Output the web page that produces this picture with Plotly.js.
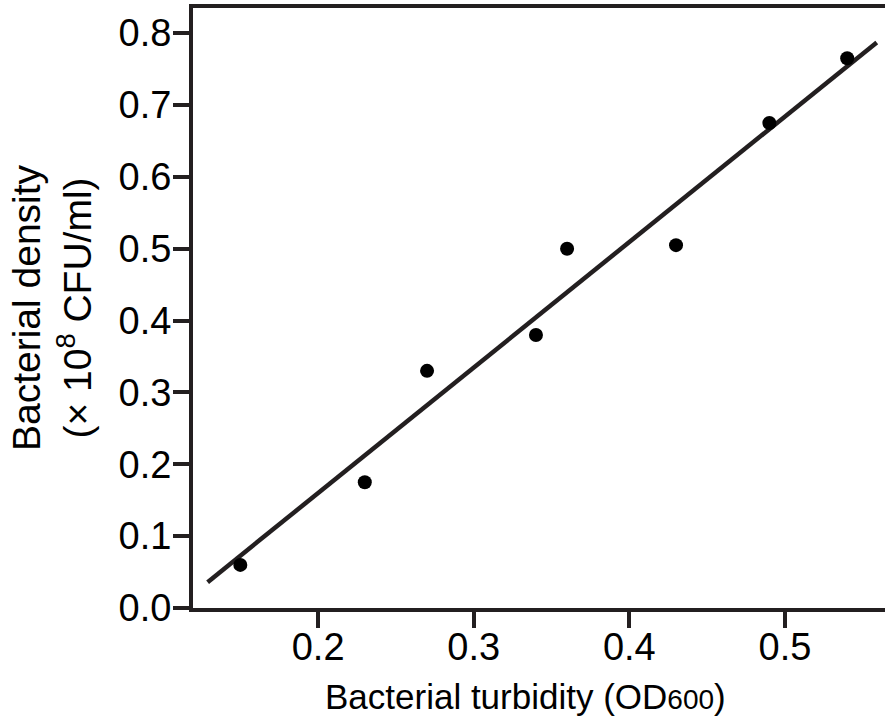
<!DOCTYPE html>
<html>
<head>
<meta charset="utf-8">
<script src="https://cdn.plot.ly/plotly-3.0.1.min.js"></script>
<style>html,body{margin:0;padding:0;background:#fff;}#chart{width:885px;height:724px;}</style>
</head>
<body>
<div id="chart"></div>
<script>
// Measured points: bacterial turbidity (OD600) vs bacterial density (x10^8 CFU/ml)
const turbidity = [0.15, 0.23, 0.27, 0.34, 0.36, 0.43, 0.49, 0.54];
const density = [0.06, 0.175, 0.33, 0.38, 0.50, 0.505, 0.675, 0.765];
// Fitted line endpoints
const fitX = [0.129, 0.559];
const fitY = [0.036, 0.787];
// Tick labels
const xTicks = [0.2, 0.3, 0.4, 0.5];
const xTickText = ["0.2", "0.3", "0.4", "0.5"];
const yTicks = [0.0, 0.1, 0.2, 0.3, 0.4, 0.5, 0.6, 0.7, 0.8];
const yTickText = ["0.0", "0.1", "0.2", "0.3", "0.4", "0.5", "0.6", "0.7", "0.8"];
const xTitle = 'Bacterial turbidity (OD<span style="font-size:28px">600</span>)';
const yTitle = 'Bacterial density<br>(× 10<sup>8</sup> CFU/ml)';

const ink = '#231f20';
const fontFam = '"Liberation Sans", Arial, Helvetica, sans-serif';

const traces = [
  {
    x: fitX, y: fitY, type: 'scatter', mode: 'lines',
    line: {color: ink, width: 4.5}, hoverinfo: 'skip', showlegend: false
  },
  {
    x: turbidity, y: density, type: 'scatter', mode: 'markers',
    marker: {color: '#000', size: 14}, showlegend: false
  }
];

const layout = {
  width: 885, height: 724,
  margin: {l: 193, r: 0, t: 8, b: 116},
  paper_bgcolor: '#fff', plot_bgcolor: '#fff',
  font: {family: fontFam, color: '#000', size: 34},
  showlegend: false,
  xaxis: {
    range: [0.1196, 0.5643],
    tickvals: xTicks, ticktext: xTickText,
    ticks: 'outside', ticklen: 16, tickwidth: 4, tickcolor: ink,
    showline: true, linecolor: ink, linewidth: 4, mirror: true,
    showgrid: false, zeroline: false,
    ticklabelstandoff: -14,
    tickfont: {size: 38, family: fontFam, color: '#000'}
  },
  yaxis: {
    range: [0, 0.835],
    tickvals: yTicks, ticktext: yTickText,
    ticks: 'outside', ticklen: 16, tickwidth: 4, tickcolor: ink,
    showline: true, linecolor: ink, linewidth: 4, mirror: false,
    showgrid: false, zeroline: false,
    ticklabelstandoff: -6,
    tickfont: {size: 38, family: fontFam, color: '#000'},
    title: {
      text: yTitle,
      font: {size: 39, family: fontFam, color: '#000'},
      standoff: 16
    }
  },
  annotations: [{
    text: xTitle, xref: 'paper', yref: 'paper',
    x: 0.481, y: -0.148, xanchor: 'center', yanchor: 'middle',
    showarrow: false, font: {size: 35, family: fontFam, color: '#000'}
  }]
};

Plotly.newPlot('chart', traces, layout, {displayModeBar: false, staticPlot: true});
</script>
</body>
</html>
